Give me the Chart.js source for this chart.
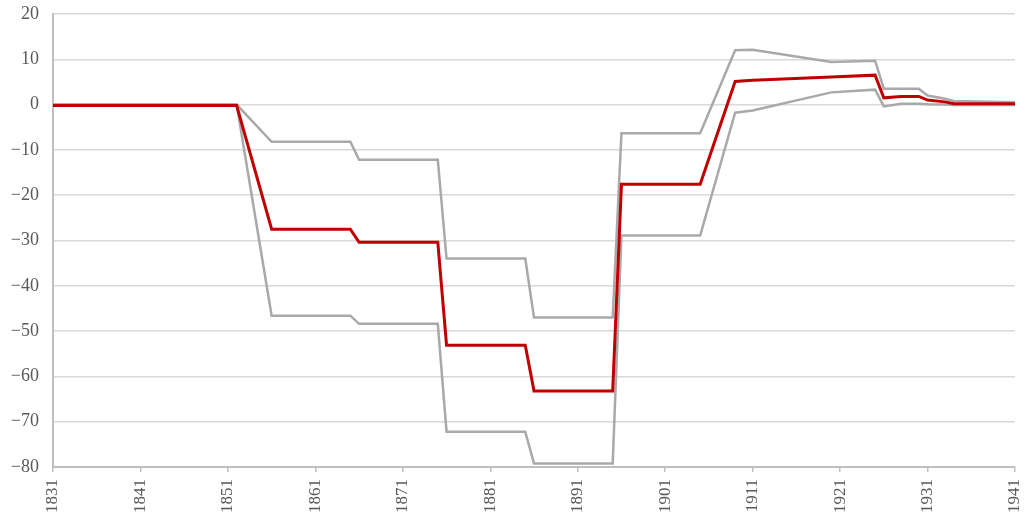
<!DOCTYPE html>
<html>
<head>
<meta charset="utf-8">
<script src="https://cdn.jsdelivr.net/npm/chart.js@4/dist/chart.umd.min.js"></script>
<style>
  html, body { margin: 0; padding: 0; background: #fff; }
  #wrap { width: 1025px; height: 517px; }
</style>
</head>
<body>
<div id="wrap"><canvas id="myChart" width="1025" height="517"></canvas></div>
<script>
// years where the series change
const years = [1831, 1852, 1856, 1865, 1866, 1875, 1876, 1885, 1886, 1895, 1896, 1905, 1909, 1911, 1920, 1925, 1926, 1928, 1930, 1931, 1933, 1934, 1941];
const upperValues = [0, 0, -8.2, -8.2, -12.2, -12.2, -34, -34, -47, -47, -6.3, -6.3, 12, 12.1, 9.4, 9.7, 3.5, 3.5, 3.5, 2, 1.3, 0.8, 0.5];
const centralValues = [-0.2, -0.2, -27.5, -27.5, -30.4, -30.4, -53.1, -53.1, -63.2, -63.2, -17.6, -17.6, 5.1, 5.4, 6.1, 6.5, 1.5, 1.8, 1.8, 1.0, 0.6, 0.2, 0.2];
const lowerValues = [0, 0, -46.6, -46.6, -48.4, -48.4, -72.2, -72.2, -79.2, -79.2, -28.9, -28.9, -1.8, -1.3, 2.7, 3.3, -0.4, 0.2, 0.2, 0.1, 0, -0.1, -0.1];
const xTicks = [1831, 1841, 1851, 1861, 1871, 1881, 1891, 1901, 1911, 1921, 1931, 1941];

const toPoints = (vals) => vals.map((v, i) => ({ x: years[i], y: v }));

const ctx = document.getElementById("myChart").getContext("2d");
const myChart = new Chart(ctx, {
  type: "line",
  data: {
    datasets: [
      {
        label: "central",
        data: toPoints(centralValues),
        borderColor: "#c00000",
        borderWidth: 3,
        pointRadius: 0,
        tension: 0,
      },
      {
        label: "upper",
        data: toPoints(upperValues),
        borderColor: "#a9a9a9",
        borderWidth: 2.5,
        pointRadius: 0,
        tension: 0,
      },
      {
        label: "lower",
        data: toPoints(lowerValues),
        borderColor: "#a9a9a9",
        borderWidth: 2.5,
        pointRadius: 0,
        tension: 0,
      },
    ],
  },
  options: {
    responsive: false,
    animation: false,
    layout: { padding: { top: 14, right: 10, left: 0, bottom: 0 } },
    plugins: {
      legend: { display: false },
      tooltip: { enabled: false },
    },
    scales: {
      x: {
        type: "linear",
        min: 1831,
        max: 1941,
        afterBuildTicks: (axis) => { axis.ticks = xTicks.map(v => ({ value: v })); },
        afterFit: (axis) => {
          axis.height = 50;
          axis.paddingLeft = 0;
          axis.paddingRight = 0;
        },
        grid: { display: true, drawOnChartArea: false, drawTicks: true, tickLength: 5, color: "#bfbfbf", lineWidth: 1.5 },
        border: { color: "#bfbfbf", width: 2 },
        ticks: {
          minRotation: 90,
          maxRotation: 90,
          autoSkip: false,
          padding: 7,
          color: "#595959",
          font: { family: "'Liberation Serif', 'Times New Roman', serif", size: 17 },
          callback: (v) => String(v),
        },
      },
      y: {
        min: -80,
        max: 20,
        afterFit: (axis) => {
          axis.width = 53;
          axis.paddingTop = 0;
          axis.paddingBottom = 0;
        },
        grid: { color: "#d9d9d9", lineWidth: 1.5, drawTicks: false },
        border: { color: "#bfbfbf", width: 2 },
        ticks: {
          stepSize: 10,
          padding: 14,
          color: "#595959",
          font: { family: "'Liberation Serif', 'Times New Roman', serif", size: 18 },
          callback: (v) => (v < 0 ? "\u2212" + Math.abs(v) : String(v)),
        },
      },
    },
  },
});
</script>
</body>
</html>
